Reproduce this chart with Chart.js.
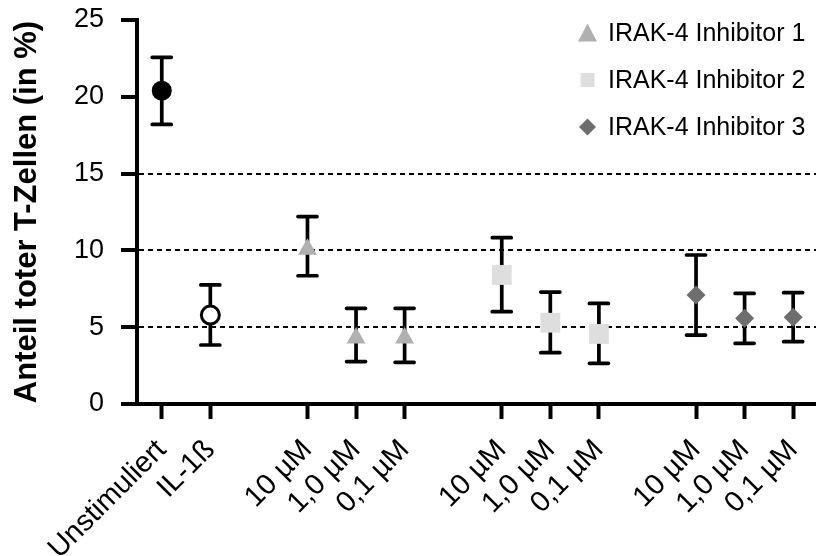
<!DOCTYPE html>
<html>
<head>
<meta charset="utf-8">
<script src="https://cdn.jsdelivr.net/npm/chart.js@4"></script>
<style>
  html, body { margin: 0; padding: 0; background: #ffffff; }
  #wrap { width: 816px; height: 556px; }
</style>
</head>
<body>
<div id="wrap"><canvas id="c" width="816" height="556"></canvas></div>
<script>
// ---- data ----
const categories = ['Unstimuliert', 'IL-1ß', '10 µM', '1,0 µM', '0,1 µM', '10 µM', '1,0 µM', '0,1 µM', '10 µM', '1,0 µM', '0,1 µM'];
const xPositions = [0, 1, 3, 4, 5, 7, 8, 9, 11, 12, 13];
const means = [20.4, 5.79, 10.07, 4.3, 4.3, 8.4, 5.29, 4.56, 7.1, 5.58, 5.64];
const upperErr = [22.57, 7.75, 12.2, 6.23, 6.23, 10.83, 7.29, 6.55, 9.7, 7.2, 7.25];
const lowerErr = [18.2, 3.84, 8.35, 2.76, 2.71, 6.01, 3.34, 2.65, 4.49, 3.95, 4.06];
const seriesNames = ['Unstimuliert', 'IL-1ß', 'IRAK-4 Inhibitor 1', 'IRAK-4 Inhibitor 2', 'IRAK-4 Inhibitor 3'];
const seriesMembers = [[0], [1], [2, 3, 4], [5, 6, 7], [8, 9, 10]];
const yTicks = [0, 5, 10, 15, 20, 25];
const gridValues = [5, 10, 15];
const legendSeries = [2, 3, 4];

// ---- styles ----
const FONT = "'Liberation Sans', Arial, sans-serif";
const styles = [
  { pointStyle: 'circle', radius: 10, bg: '#000000', border: '#000000', bw: 0 },
  { pointStyle: 'circle', radius: 9, bg: '#ffffff', border: '#000000', bw: 3 },
  { pointStyle: 'triangle', radius: 11, bg: '#b0b0b0', border: '#b0b0b0', bw: 0 },
  { pointStyle: 'rect', radius: 14, bg: '#dedede', border: '#dedede', bw: 0 },
  { pointStyle: 'rectRot', radius: 9.5, bg: '#6e6e6e', border: '#6e6e6e', bw: 0 }
];

const datasets = seriesNames.map((name, s) => ({
  label: name,
  data: seriesMembers[s].map(i => ({ x: xPositions[i], y: means[i], lo: lowerErr[i], hi: upperErr[i] })),
  pointStyle: styles[s].pointStyle,
  pointRadius: styles[s].radius,
  pointHoverRadius: styles[s].radius,
  backgroundColor: styles[s].bg,
  borderColor: styles[s].border,
  borderWidth: styles[s].bw,
  showLine: false,
  clip: false
}));

const errorBars = {
  id: 'errorBars',
  beforeDatasetsDraw(chart) {
    const ctx = chart.ctx;
    const ys = chart.scales.y;
    ctx.save();
    ctx.strokeStyle = '#000000';
    ctx.lineWidth = 3.7;
    ctx.lineCap = 'round';
    chart.data.datasets.forEach((ds, di) => {
      const meta = chart.getDatasetMeta(di);
      meta.data.forEach((el, j) => {
        const d = ds.data[j];
        const x = el.x;
        const yt = ys.getPixelForValue(d.hi);
        const yb = ys.getPixelForValue(d.lo);
        ctx.beginPath();
        ctx.moveTo(x, yt); ctx.lineTo(x, yb);
        ctx.moveTo(x - 9.5, yt); ctx.lineTo(x + 9.5, yt);
        ctx.moveTo(x - 9.5, yb); ctx.lineTo(x + 9.5, yb);
        ctx.stroke();
      });
    });
    ctx.restore();
  }
};

const customLegend = {
  id: 'customLegend',
  afterDraw(chart) {
    const ctx = chart.ctx;
    ctx.save();
    const mx = 587.5, tx = 608;
    const rowsY = [33, 80, 127];
    legendSeries.forEach((s, k) => {
      const y = rowsY[k];
      ctx.fillStyle = styles[s].bg;
      ctx.beginPath();
      if (styles[s].pointStyle === 'triangle') {
        ctx.moveTo(mx, y - 9.5); ctx.lineTo(mx + 9.5, y + 8.5); ctx.lineTo(mx - 9.5, y + 8.5);
      } else if (styles[s].pointStyle === 'rect') {
        ctx.rect(mx - 7, y - 7, 14, 14);
      } else {
        ctx.moveTo(mx, y - 8.5); ctx.lineTo(mx + 8.5, y); ctx.lineTo(mx, y + 8.5); ctx.lineTo(mx - 8.5, y);
      }
      ctx.closePath();
      ctx.fill();
      ctx.fillStyle = '#000000';
      ctx.font = '25px ' + FONT;
      ctx.textAlign = 'left';
      ctx.textBaseline = 'middle';
      ctx.fillText(seriesNames[s], tx, y + 1);
    });
    ctx.restore();
  }
};

new Chart(document.getElementById('c'), {
  type: 'scatter',
  data: { datasets },
  options: {
    responsive: false,
    animation: false,
    devicePixelRatio: 1,
    layout: { autoPadding: false, padding: { top: 20, left: 0, right: 0, bottom: 0 } },
    plugins: { legend: { display: false }, tooltip: { enabled: false } },
    scales: {
      x: {
        type: 'linear',
        min: -0.51,
        max: 13.47,
        afterBuildTicks(scale) { scale.ticks = xPositions.map(v => ({ value: v })); },
        afterFit(scale) { scale.height = 152; scale.paddingLeft = 0; scale.paddingRight = 0; },
        ticks: {
          autoSkip: false,
          minRotation: 45,
          maxRotation: 45,
          padding: 14,
          color: '#000000',
          font: { family: FONT, size: 29 },
          callback(value) { const i = xPositions.indexOf(value); return i >= 0 ? categories[i] : ''; }
        },
        grid: { drawOnChartArea: false, drawTicks: true, tickLength: 15, tickWidth: 4, tickColor: '#000000' },
        border: { display: true, color: '#000000', width: 4 }
      },
      y: {
        min: 0,
        max: 25,
        afterBuildTicks(scale) { scale.ticks = yTicks.map(v => ({ value: v })); },
        afterFit(scale) { scale.width = 137; scale.paddingTop = 0; scale.paddingBottom = 0; },
        ticks: {
          padding: 17,
          color: '#000000',
          font: { family: FONT, size: 27 }
        },
        title: {
          display: true,
          text: 'Anteil toter T-Zellen (in %)',
          color: '#000000',
          font: { family: FONT, size: 31, weight: 'bold' },
          padding: { top: 9, bottom: 0 }
        },
        grid: {
          drawOnChartArea: true,
          color: (c) => gridValues.includes(c.tick && c.tick.value) ? '#000000' : 'rgba(0,0,0,0)',
          lineWidth: 2,
          tickLength: 16,
          tickWidth: 4,
          tickColor: '#000000'
        },
        border: { display: true, color: '#000000', width: 4, dash: [5, 4] }
      }
    }
  },
  plugins: [errorBars, customLegend]
});
</script>
</body>
</html>
